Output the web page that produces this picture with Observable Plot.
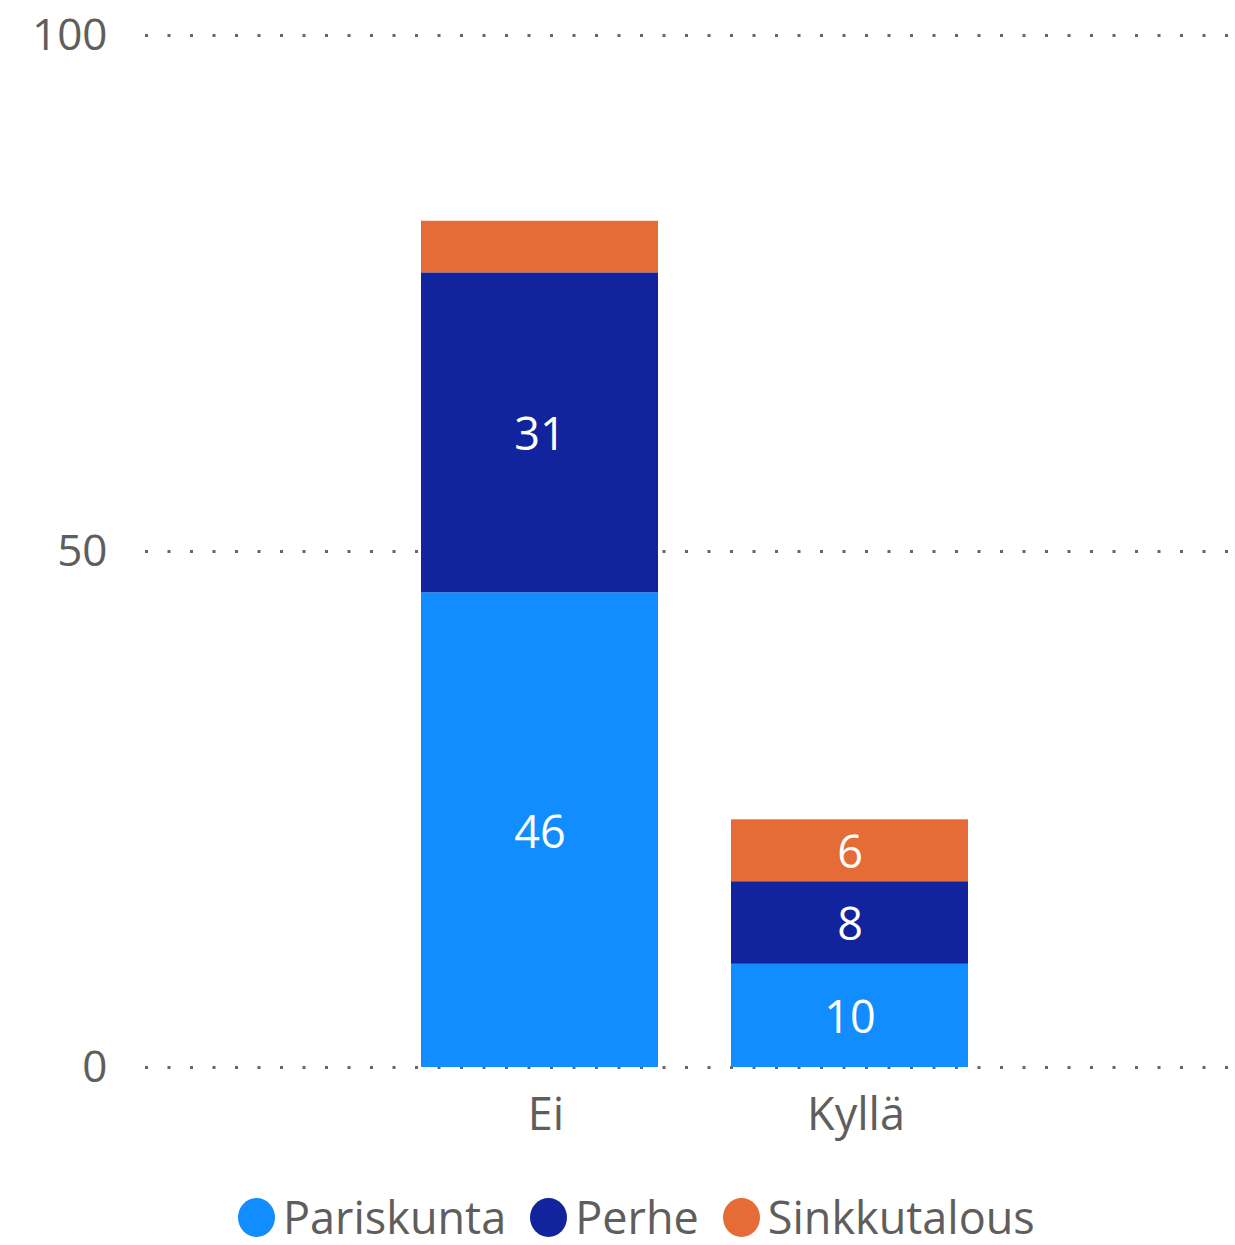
<!DOCTYPE html>
<html>
<head>
<meta charset="utf-8">
<script src="https://cdn.jsdelivr.net/npm/d3@7"></script>
<script src="https://cdn.jsdelivr.net/npm/@observablehq/plot@0.6"></script>
<style>
  html, body { margin: 0; padding: 0; background: #fff; }
  body { font-family: "Segoe UI", "Open Sans", sans-serif; width: 1235px; overflow: hidden; }
  #legend { display: flex; align-items: center; height: 50px; margin-top: 32px; padding-left: 238px; }
  .item { display: flex; align-items: center; margin-right: 24px; }
  .sw { width: 37px; height: 39px; border-radius: 50%; margin-right: 8px; }
  .lab { font-size: 45px; color: #605E5C; line-height: 50px; }
</style>
</head>
<body>
<div id="chart"></div>
<div id="legend"></div>
<script>
const categories = ["Ei", "Kyllä"];
const series = ["Pariskunta", "Perhe", "Sinkkutalous"];
const pariskunta = [46, 10];
const perhe = [31, 8];
const sinkkutalous = [5, 6];
// data labels as shown in the chart (Ei / Sinkkutalous has no label)
const pariskuntaLabels = [46, 10];
const perheLabels = [31, 8];
const sinkkutalousLabels = [null, 6];
const colors = ["#118DFF", "#12239E", "#E66C37"];
const yTicks = [0, 50, 100];

const valuesBySeries = [pariskunta, perhe, sinkkutalous];
const labelsBySeries = [pariskuntaLabels, perheLabels, sinkkutalousLabels];
const data = [];
categories.forEach((c, i) => {
  series.forEach((s, j) => {
    data.push({category: c, series: s, value: valuesBySeries[j][i], label: labelsBySeries[j][i]});
  });
});

const font = "'Segoe UI', 'Open Sans', sans-serif";
const chart = Plot.plot({
  width: 1235,
  height: 1160,
  marginLeft: 145,
  marginRight: 0,
  marginTop: 35,
  marginBottom: 93,
  style: {fontFamily: font, background: "white"},
  x: {domain: categories, range: [145, 1244], paddingInner: 0.2355, paddingOuter: 0.89},
  y: {domain: [0, 100]},
  color: {domain: series, range: colors},
  marks: [
    Plot.ruleY(yTicks, {stroke: "#666", strokeWidth: 3, strokeDasharray: "3 19.5"}),
    Plot.barY(data, {x: "category", y: "value", fill: "series"}),
    Plot.text(data, Plot.stackY({x: "category", y: "value", text: "label", fill: "white", fontSize: 45, dy: 3})),
    Plot.axisY(yTicks, {tickSize: 0, tickPadding: 38, fontSize: 44, color: "#605E5C", label: null}),
    Plot.axisX({tickSize: 0, tickPadding: 31, fontSize: 45, color: "#605E5C", label: null, dx: 6})
  ]
});
document.getElementById("chart").appendChild(chart);

const legend = document.getElementById("legend");
series.forEach((s, j) => {
  const item = document.createElement("div");
  item.className = "item";
  const sw = document.createElement("div");
  sw.className = "sw";
  sw.style.background = colors[j];
  const lab = document.createElement("span");
  lab.className = "lab";
  lab.textContent = s;
  item.appendChild(sw);
  item.appendChild(lab);
  legend.appendChild(item);
});
</script>
</body>
</html>
